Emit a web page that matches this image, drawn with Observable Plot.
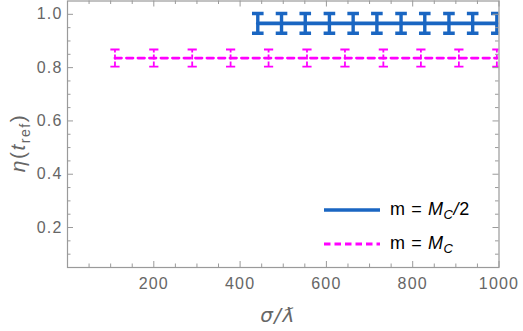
<!DOCTYPE html>
<html><head><meta charset="utf-8">
<script src="https://cdn.jsdelivr.net/npm/d3@7"></script>
<script src="https://cdn.jsdelivr.net/npm/@observablehq/plot@0.6"></script>
<style>
body{margin:0;background:#fff;}
#chart{position:relative;width:523px;height:331px;}
.leg{position:absolute;font-family:"Liberation Sans",Arial,sans-serif;font-size:18px;color:#000;white-space:nowrap;letter-spacing:0.6px;}
.leg i{font-style:italic;}
.leg sub{font-size:13px;vertical-align:-4px;line-height:0;}
</style></head><body><div id="chart"></div>
<script>
// m = M_C/2 series
const blueSigma = [441, 496, 551, 607, 662, 717, 773, 828, 884, 939, 995];
const blueEta   = [0.966, 0.966, 0.966, 0.966, 0.966, 0.966, 0.966, 0.966, 0.966, 0.966, 0.966];
const blueErr   = [0.037, 0.037, 0.037, 0.037, 0.037, 0.037, 0.037, 0.037, 0.037, 0.037, 0.037];
// m = M_C series
const pinkSigma = [110, 200, 289, 378, 466, 555, 643, 732, 819, 907, 995];
const pinkEta   = [0.836, 0.836, 0.836, 0.836, 0.836, 0.836, 0.836, 0.836, 0.836, 0.836, 0.836];
const pinkErr   = [0.032, 0.032, 0.032, 0.032, 0.032, 0.032, 0.032, 0.032, 0.032, 0.032, 0.032];
// ticks
const xMajor = [200, 400, 600, 800, 1000];
const xMinor = [50, 100, 150, 250, 300, 350, 450, 500, 550, 650, 700, 750, 850, 900, 950];
const yMajor = [0.2, 0.4, 0.6, 0.8, 1.0];
const yMinor = [0.1, 0.15, 0.25, 0.3, 0.35, 0.45, 0.5, 0.55, 0.65, 0.7, 0.75, 0.85, 0.9, 0.95];

const BLUE = "#1a66c2", PINK = "#ff00ff", GRAY = "#9a9a9a", TXT = "#666";
const W = 523, H = 331, mL = 67, mR = 24.5, mT = 0.5, mB = 64;
const pw = W - mL - mR, ph = H - mT - mB;

const blue = blueSigma.map((s, i) => ({s, eta: blueEta[i], lo: blueEta[i] - blueErr[i], hi: blueEta[i] + blueErr[i]}));
const pink = pinkSigma.map((s, i) => ({s, eta: pinkEta[i], lo: pinkEta[i] - pinkErr[i], hi: pinkEta[i] + pinkErr[i]}));

const capSym = (w) => ({draw(ctx) { ctx.moveTo(-w, 0); ctx.lineTo(w, 0); }});

function errMarks(data, color, lw, capW, dash) {
  return [
    Plot.link(data, {x1: "s", x2: "s", y1: "lo", y2: "hi", stroke: color, strokeWidth: lw, strokeDasharray: dash, clip: "frame"}),
    Plot.dot(data, {x: "s", y: "hi", symbol: capSym(capW), r: 3, stroke: color, strokeWidth: lw, fill: "none", clip: "frame"}),
    Plot.dot(data, {x: "s", y: "lo", symbol: capSym(capW), r: 3, stroke: color, strokeWidth: lw, fill: "none", clip: "frame"})
  ];
}

const chart = Plot.plot({
  width: W, height: H,
  marginLeft: mL, marginRight: mR, marginTop: mT, marginBottom: mB,
  style: {fontFamily: "'Liberation Sans', Arial, sans-serif", fontSize: "16px", color: TXT, letterSpacing: "1.2px", background: "#fff"},
  x: {domain: [0, 1000]},
  y: {domain: [0.05, 1.05]},
  marks: [
    Plot.line(pink, {x: "s", y: "eta", stroke: PINK, strokeWidth: 2.8, strokeDasharray: "6.5,5", clip: "frame"}),
    ...errMarks(pink, PINK, 1.8, 4.6, "5,2"),
    Plot.line(blue, {x: "s", y: "eta", stroke: BLUE, strokeWidth: 3.6, clip: "frame"}),
    ...errMarks(blue, BLUE, 3.4, 5.8, null),
    Plot.frame({stroke: GRAY, strokeWidth: 1.2}),
    Plot.tickX(xMajor, {x: d => d, insetTop: ph - 6, stroke: GRAY}),
    Plot.tickX(xMinor, {x: d => d, insetTop: ph - 3.5, stroke: GRAY}),
    Plot.tickX(xMajor, {x: d => d, insetBottom: ph - 6, stroke: GRAY}),
    Plot.tickX(xMinor, {x: d => d, insetBottom: ph - 3.5, stroke: GRAY}),
    Plot.tickY(yMajor, {y: d => d, insetRight: pw - 6, stroke: GRAY}),
    Plot.tickY(yMinor, {y: d => d, insetRight: pw - 3.5, stroke: GRAY}),
    Plot.tickY(yMajor, {y: d => d, insetLeft: pw - 6, stroke: GRAY}),
    Plot.tickY(yMinor, {y: d => d, insetLeft: pw - 3.5, stroke: GRAY}),
    Plot.axisX({ticks: xMajor, tickSize: 0, tickPadding: 10, tickFormat: d => String(d), label: null}),
    Plot.axisY({ticks: yMajor, tickSize: 0, tickPadding: 5, tickFormat: d3.format(".1f"), label: null})
  ]
});

const root = document.getElementById("chart");
root.appendChild(chart);

const svg = d3.select(chart);
const ylab = svg.append("text")
  .attr("transform", "rotate(-90)")
  .attr("x", -143).attr("y", 25)
  .attr("text-anchor", "middle")
  .attr("fill", TXT)
  .style("font-size", "21px").style("letter-spacing", "1.5px");
ylab.append("tspan").attr("font-style", "italic").text("η");
ylab.append("tspan").text("(");
ylab.append("tspan").attr("font-style", "italic").text("t");
ylab.append("tspan").attr("dy", 5).style("font-size", "14px").text("ref");
ylab.append("tspan").attr("dy", -5).text(")");

svg.append("text")
  .attr("x", 278).attr("y", 322)
  .attr("text-anchor", "middle")
  .attr("fill", TXT)
  .attr("font-style", "italic")
  .style("font-family", "'DejaVu Sans', sans-serif")
  .style("font-size", "20px").style("letter-spacing", "1.5px")
  .text("σ/ƛ");

const legendItems = [
  {color: BLUE, dash: null, width: 3.4, label: 'm = <i>M</i><sub><i>C</i></sub><i>/</i>2'},
  {color: PINK, dash: "6.5,4", width: 2.8, label: 'm = <i>M</i><sub><i>C</i></sub>'}
];
legendItems.forEach((it, i) => {
  const top = 199 + i * 34;
  const div = document.createElement("div");
  div.className = "leg";
  div.style.left = "323px";
  div.style.top = top + "px";
  div.innerHTML = `<svg width="58" height="22" style="vertical-align:middle;margin-right:9px"><line x1="1" x2="57" y1="11" y2="11" stroke="${it.color}" stroke-width="${it.width}" ${it.dash ? `stroke-dasharray="${it.dash}"` : ""}/></svg>${it.label}`;
  root.appendChild(div);
});
</script>
</body></html>
